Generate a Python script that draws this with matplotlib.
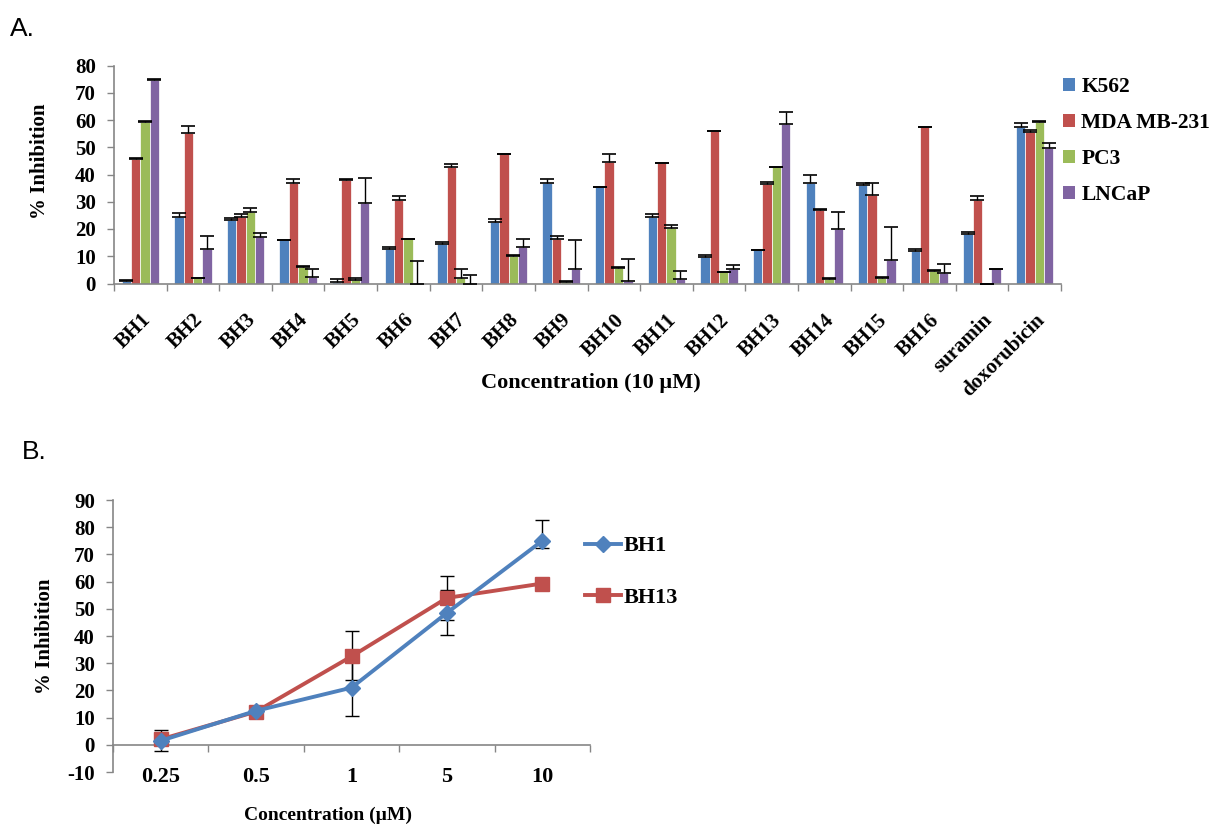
import numpy as np
import matplotlib
matplotlib.use("Agg")
import matplotlib.pyplot as plt
from matplotlib.patches import Patch
from matplotlib.lines import Line2D

# ---------------- Panel A data ----------------
compounds = ["BH1", "BH2", "BH3", "BH4", "BH5", "BH6", "BH7", "BH8", "BH9",
             "BH10", "BH11", "BH12", "BH13", "BH14", "BH15", "BH16",
             "suramin", "doxorubicin"]
series_names = ["K562", "MDA MB-231", "PC3", "LNCaP"]
k562 = [1.0, 24.5, 23.3, 15.8, 0.5, 12.8, 14.6, 22.5, 36.9, 35.3, 24.4, 9.8,
        12.2, 37.0, 36.0, 11.8, 18.0, 57.5]
k562_err = [0.3, 1.2, 0.9, 0.3, 1.1, 0.7, 0.8, 1.3, 1.4, 0.2, 1.2, 0.7,
            0.2, 2.8, 0.9, 0.7, 0.9, 1.3]
mda = [45.7, 55.1, 24.3, 37.0, 37.9, 30.6, 42.6, 47.4, 16.5, 44.7, 44.1, 55.9,
       36.6, 27.1, 32.6, 57.3, 30.6, 55.6]
mda_err = [0.3, 2.7, 1.3, 1.3, 0.3, 1.5, 1.2, 0.3, 0.8, 2.8, 0.3, 0.2,
           0.8, 0.2, 4.3, 0.2, 1.5, 0.8]
pc3 = [59.4, 1.9, 26.2, 6.1, 1.3, 16.3, 2.2, 10.0, 0.4, 5.6, 20.4, 4.1,
       42.8, 1.7, 2.1, 4.6, 0.0, 59.3]
pc3_err = [0.3, 0.3, 1.4, 0.3, 0.8, 0.2, 3.0, 0.3, 0.5, 0.3, 1.0, 0.3,
           0.1, 0.2, 0.3, 0.3, 0.0, 0.3]
lncap = [74.5, 12.7, 17.0, 2.4, 29.6, 0.0, 0.0, 13.5, 5.4, 1.0, 1.8, 5.2,
         58.5, 19.9, 8.8, 3.9, 5.2, 49.8]
lncap_err = [0.6, 4.7, 1.4, 2.8, 9.2, 8.2, 3.3, 2.8, 10.5, 7.9, 2.8, 1.5,
             4.6, 6.2, 11.9, 3.3, 0.3, 1.7]
a_yticks = [0, 10, 20, 30, 40, 50, 60, 70, 80]

# ---------------- Panel B data ----------------
conc_labels = ["0.25", "0.5", "1", "5", "10"]
bh1 = [1.5, 12.5, 21.0, 48.5, 75.0]
bh1_err_low = [3.7, 2.5, 10.5, 8.0, 2.6]
bh1_err_high = [3.9, 1.5, 10.5, 8.5, 7.7]
bh13 = [2.0, 12.2, 32.5, 54.0, 59.3]
bh13_err_low = [2.0, 1.5, 8.5, 8.0, 2.0]
bh13_err_high = [2.4, 1.0, 9.5, 8.0, 0.5]
b_yticks = [-10, 0, 10, 20, 30, 40, 50, 60, 70, 80, 90]

colors = ["#4F81BD", "#C0504D", "#9BBB59", "#8064A2"]
axis_gray = "#868686"
serif = ["Liberation Serif", "DejaVu Serif"]
sans = ["Liberation Sans", "DejaVu Sans"]

W, H = 1216, 827
fig = plt.figure(figsize=(W / 100, H / 100), dpi=100)

def fx(px):
    return px / W

def fy(py):
    return 1 - py / H

# ================= Panel A =================
axA = fig.add_axes([fx(114), fy(283.5), fx(1061) - fx(114), fy(65.5) - fy(283.5)])
x = np.arange(len(compounds))
bw = 0.178
vals = [k562, mda, pc3, lncap]
errs = [k562_err, mda_err, pc3_err, lncap_err]
for i, (v, e) in enumerate(zip(vals, errs)):
    xpos = x + (i - 1.5) * bw
    axA.bar(xpos, v, width=bw, color=colors[i], edgecolor="white",
            linewidth=0.5, zorder=2, label=series_names[i])
    axA.errorbar(xpos, v, yerr=[np.zeros(len(e)), e], fmt="none",
                 ecolor="black", elinewidth=1.0, capsize=5.3, capthick=1.2,
                 zorder=3)

axA.set_xlim(-0.5, len(compounds) - 0.5)
axA.set_ylim(0, 80)
axA.set_yticks(a_yticks)
axA.set_yticklabels([str(t) for t in a_yticks], family=serif,
                    fontweight="bold", fontsize=15)
axA.set_xticks(np.arange(len(compounds) + 1) - 0.5)
axA.set_xticklabels([])
axA.set_xticks(x, minor=True)
axA.set_xticklabels(compounds, minor=True, rotation=45, ha="right",
                    rotation_mode="anchor", family=serif, fontweight="bold",
                    fontsize=15)
axA.tick_params(axis="x", which="major", direction="out", length=5,
                color=axis_gray, width=1)
axA.tick_params(axis="x", which="minor", length=0, pad=19)
axA.tick_params(axis="y", direction="out", length=5, color=axis_gray,
                width=1, pad=8)
for s in ["top", "right"]:
    axA.spines[s].set_visible(False)
for s in ["left", "bottom"]:
    axA.spines[s].set_color(axis_gray)
    axA.spines[s].set_linewidth(1.2)

fig.text(fx(591), fy(383), "Concentration (10 \u00b5M)", family=serif,
         fontweight="bold", fontsize=16, ha="center", va="center")
fig.text(fx(40), fy(161), "% Inhibition", family=serif, fontweight="bold",
         fontsize=15, ha="center", va="center", rotation=90)

handles = [Patch(facecolor=c, edgecolor="none") for c in colors]
fig.legend(handles, series_names, loc="center left",
           bbox_to_anchor=(fx(1063), fy(141)),
           bbox_transform=fig.transFigure, frameon=False,
           handlelength=0.55, handleheight=0.55, handletextpad=0.3,
           labelspacing=0.75, borderpad=0, borderaxespad=0,
           prop={"family": serif, "weight": "bold", "size": 15.5})

fig.text(fx(10), fy(29), "A.", family=sans, fontsize=19, ha="left",
         va="center")

# ================= Panel B =================
axB = fig.add_axes([fx(113), fy(772), fx(590) - fx(113), fy(500) - fy(772)])
xb = np.arange(len(conc_labels))
axB.errorbar(xb, bh1, yerr=[bh1_err_low, bh1_err_high], fmt="none",
             ecolor="black", elinewidth=1.0, capsize=5, capthick=1.0,
             zorder=2)
axB.errorbar(xb, bh13, yerr=[bh13_err_low, bh13_err_high], fmt="none",
             ecolor="black", elinewidth=1.0, capsize=5, capthick=1.0,
             zorder=2)
axB.plot(xb, bh1, color=colors[0], lw=2.8, marker="D", markersize=8.5,
         markeredgecolor=colors[0], zorder=4, label="BH1")
axB.plot(xb, bh13, color=colors[1], lw=2.8, marker="s", markersize=10,
         markeredgecolor=colors[1], zorder=3, label="BH13")

axB.set_xlim(-0.5, len(conc_labels) - 0.5)
axB.set_ylim(-10, 90)
axB.set_yticks(b_yticks)
axB.set_yticklabels([str(t) for t in b_yticks], family=serif,
                    fontweight="bold", fontsize=15)
axB.set_xticks(np.arange(len(conc_labels) + 1) - 0.5)
axB.set_xticklabels([])
axB.tick_params(axis="x", direction="out", length=5, color=axis_gray, width=1)
axB.tick_params(axis="y", direction="out", length=5, color=axis_gray,
                width=1, pad=8)
axB.spines["bottom"].set_position(("data", 0))
for s in ["top", "right"]:
    axB.spines[s].set_visible(False)
for s in ["left", "bottom"]:
    axB.spines[s].set_color(axis_gray)
    axB.spines[s].set_linewidth(1.2)
for i, lab in enumerate(conc_labels):
    axB.text(i, -11.8, lab, family=serif, fontweight="bold", fontsize=16,
             ha="center", va="center", clip_on=False)

fig.text(fx(328), fy(815), "Concentration (\u00b5M)", family=serif,
         fontweight="bold", fontsize=14, ha="center", va="center")
fig.text(fx(45), fy(636), "% Inhibition", family=serif, fontweight="bold",
         fontsize=15, ha="center", va="center", rotation=90)

hB = [Line2D([0], [0], color=colors[0], lw=2.8, marker="D", markersize=8.5),
      Line2D([0], [0], color=colors[1], lw=2.8, marker="s", markersize=10)]
fig.legend(hB, ["BH1", "BH13"], loc="center left",
           bbox_to_anchor=(fx(585), fy(572)), bbox_transform=fig.transFigure,
           frameon=False, handlelength=1.6, handletextpad=0.15,
           labelspacing=1.4, borderpad=0, borderaxespad=0,
           prop={"family": serif, "weight": "bold", "size": 16})

fig.text(fx(22), fy(452), "B.", family=sans, fontsize=19, ha="left",
         va="center")

fig.savefig("out.png", dpi=100)
